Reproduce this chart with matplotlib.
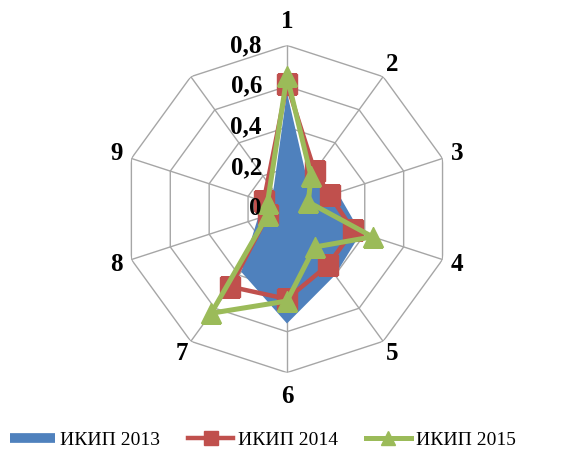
import numpy as np
import matplotlib.pyplot as plt
from matplotlib.lines import Line2D

plt.rcParams["font.family"] = ["Liberation Serif", "DejaVu Serif"]

# данные (10 осей, последняя без подписи и без значений)
categories = ["1", "2", "3", "4", "5", "6", "7", "8", "9", ""]
ikip_2013 = [0.57, 0.17, 0.26, 0.38, 0.40, 0.56, 0.38, 0.15, 0.08]
ikip_2014 = [0.61, 0.23, 0.22, 0.34, 0.34, 0.44, 0.47, 0.10, 0.12]
ikip_2015 = [0.65, 0.20, 0.11, 0.44, 0.23, 0.45, 0.63, 0.10, 0.10]
r_ticks = [0, 0.2, 0.4, 0.6, 0.8]
r_labels = ["0", "0,2", "0,4", "0,6", "0,8"]

blue = "#4F81BD"
red = "#C0504D"
green = "#9BBB59"
grid_c = "#A6A6A6"

n = len(categories)
theta = np.arange(n) * 2 * np.pi / n

fig = plt.figure(figsize=(5.76, 4.54), dpi=100)
ax = fig.add_axes([0.2142, 0.1793, 0.568, 0.7207], projection="polar")
ax.set_theta_zero_location("N")
ax.set_theta_direction(-1)
ax.set_ylim(0, 0.8)
ax.grid(False)
ax.set_xticks([])
ax.set_yticks([])
ax.spines["polar"].set_visible(False)
ax.patch.set_alpha(0)

# сетка-десятиугольник
th_closed = np.append(theta, theta[0])
for r in r_ticks[1:]:
    ax.plot(th_closed, [r] * (n + 1), color=grid_c, lw=1, zorder=0)
for t in theta:
    ax.plot([t, t], [0, 0.8], color=grid_c, lw=1, zorder=0)

def closed(vals):
    k = len(vals)
    return np.append(theta[:k], theta[0]), np.append(vals, vals[0])

t13, v13 = closed(ikip_2013)
ax.fill(t13, v13, color=blue, lw=0, zorder=2)
t14, v14 = closed(ikip_2014)
ax.plot(t14[:-1], v14[:-1], ls="none", marker="s", ms=14, color=red, zorder=3)
ax.plot(t14, v14, color=red, lw=3.2, zorder=3)
t15, v15 = closed(ikip_2015)
ax.plot(t15, v15, color=green, lw=3.6, zorder=4)
ax.plot(t15[:-1], v15[:-1], ls="none", marker="^", ms=15, color=green, zorder=4)

# подписи осей
for t, lab in zip(theta, categories):
    if not lab:
        continue
    rr = 0.915 if lab in ("1", "6") else 0.875
    ax.text(t, rr, lab, ha="center", va="center", fontsize=18, fontweight="bold")

# подписи шкалы
for r, lab in zip(r_ticks, r_labels):
    ax.annotate(lab, xy=(0, r), xytext=(-18, 0), textcoords="offset points",
                ha="right", va="center", fontsize=18, fontweight="bold", zorder=6)

handles = [
    Line2D([], [], color=blue, lw=7, solid_capstyle="butt"),
    Line2D([], [], color=red, lw=3.2, marker="s", ms=10),
    Line2D([], [], color=green, lw=3.6, marker="^", ms=10),
]
fig.legend(handles, ["ИКИП 2013", "ИКИП 2014", "ИКИП 2015"], ncol=3,
           loc="center", bbox_to_anchor=(0.4566, 0.03), frameon=False,
           fontsize=14, handlelength=2.3, columnspacing=1.45, handletextpad=0.25,
           borderpad=0.1)

fig.savefig("out.png", dpi=100)
